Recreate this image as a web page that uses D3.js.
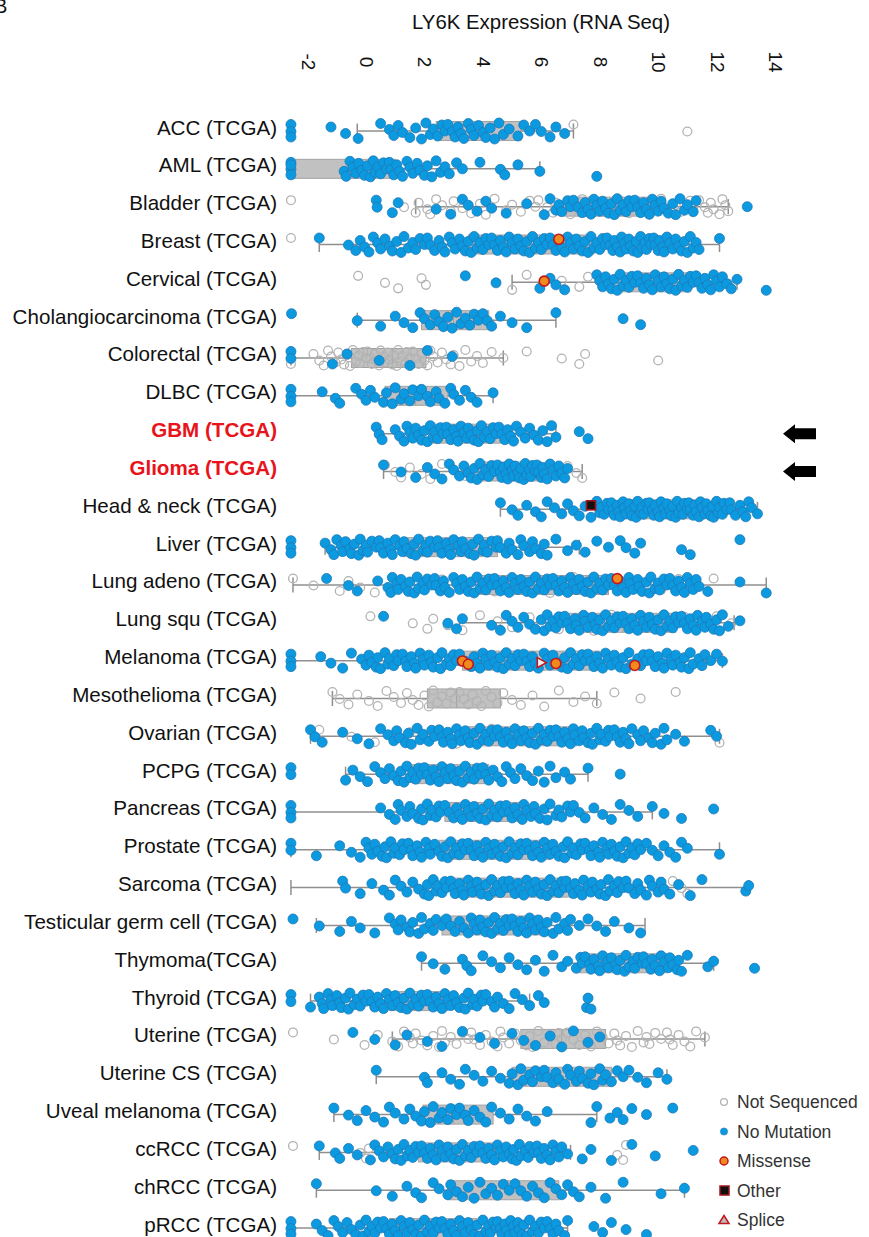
<!DOCTYPE html>
<html>
<head>
<meta charset="utf-8">
<script src="https://d3js.org/d3.v7.min.js"></script>
<style>
  body { margin: 0; background: #fff; }
  svg { display: block; }
  text { font-family: "Liberation Sans", Arial, sans-serif; fill: #111; }
</style>
</head>
<body>
<svg id="chart" width="869" height="1237"></svg>
<script>
// ---- data -------------------------------------------------------------
const categories = [
  "ACC (TCGA)", "AML (TCGA)", "Bladder (TCGA)", "Breast (TCGA)", "Cervical (TCGA)",
  "Cholangiocarcinoma (TCGA)", "Colorectal (TCGA)", "DLBC (TCGA)", "GBM (TCGA)", "Glioma (TCGA)",
  "Head & neck (TCGA)", "Liver (TCGA)", "Lung adeno (TCGA)", "Lung squ (TCGA)", "Melanoma (TCGA)",
  "Mesothelioma (TCGA)", "Ovarian (TCGA)", "PCPG (TCGA)", "Pancreas (TCGA)", "Prostate (TCGA)",
  "Sarcoma (TCGA)", "Testicular germ cell (TCGA)", "Thymoma(TCGA)", "Thyroid (TCGA)", "Uterine (TCGA)",
  "Uterine CS (TCGA)", "Uveal melanoma (TCGA)", "ccRCC (TCGA)", "chRCC (TCGA)", "pRCC (TCGA)"
];
const highlighted = ["GBM (TCGA)", "Glioma (TCGA)"];
const xTicks = [-2, 0, 2, 4, 6, 8, 10, 12, 14];
const legendLabels = ["Not Sequenced", "No Mutation", "Missense", "Other", "Splice"];

// box summaries per cancer type: [whisker low, Q1, median, Q3, whisker high]
const boxStats = [
  [-0.3, 2.4, 3.6, 5.3, 7.1],
  [-2.57, -2.57, -0.4, 1.0, 5.95],
  [1.7, 6.8, 8.5, 9.8, 12.4],
  [-1.6, 3.5, 5.6, 7.8, 12.1],
  [5.0, 8.6, 9.9, 11.1, 12.7],
  [-0.3, 1.9, 3.0, 4.2, 6.5],
  [-2.57, -0.5, 0.9, 2.05, 4.7],
  [-2.57, 0.65, 1.7, 2.8, 4.35],
  [0.4, 2.2, 3.4, 4.6, 6.5],
  [0.6, 3.8, 5.0, 6.0, 7.4],
  [4.6, 8.8, 10.3, 11.6, 13.4],
  [-1.4, 1.3, 2.9, 4.5, 7.3],
  [-2.5, 3.8, 6.0, 8.3, 13.7],
  [3.2, 6.9, 8.8, 10.6, 12.6],
  [-2.57, 3.3, 5.6, 8.0, 12.2],
  [-1.15, 2.1, 3.1, 4.6, 7.9],
  [-1.9, 3.5, 5.4, 7.2, 12.1],
  [-0.7, 1.6, 3.0, 4.2, 7.6],
  [-2.57, 2.7, 4.2, 5.4, 9.8],
  [-2.57, 2.5, 4.5, 6.3, 12.1],
  [-2.57, 3.0, 5.0, 7.0, 13.1],
  [-1.7, 2.6, 4.5, 6.0, 9.55],
  [1.9, 7.3, 9.0, 10.3, 11.9],
  [-1.9, 0.8, 1.8, 2.8, 5.6],
  [0.9, 5.3, 6.7, 8.2, 11.6],
  [0.35, 5.0, 6.6, 8.4, 10.3],
  [-1.1, 1.95, 3.0, 4.35, 7.9],
  [-1.6, 1.8, 3.1, 4.4, 7.0],
  [-1.7, 2.8, 4.6, 6.6, 10.9],
  [-2.57, 0.8, 2.2, 3.8, 6.9]
];

// LY6K expression of samples with no LY6K mutation
const noMutation = [
  [-2.57,-2.57,-2.57,-1.2,-0.7,-0.27,0.5,0.8,0.95,1.1,1.25,1.5,1.7,1.9,2.05,2.2,2.3,2.45,2.6,2.7,2.8,2.95,3.05,3.15,3.25,3.35,3.5,3.6,3.7,3.85,4.0,4.1,4.25,4.4,4.55,4.7,4.9,5.2,5.4,5.6,5.8,6.0,6.3,6.5,6.8],
  [-2.57,-2.57,-2.57,-2.57,-0.75,-0.68,-0.55,-0.45,-0.35,-0.25,-0.15,-0.05,0.05,0.15,0.25,0.3,0.4,0.5,0.6,0.7,0.8,0.85,0.95,1.05,1.15,1.25,1.4,1.5,1.6,1.75,1.85,2.0,2.1,2.25,2.4,2.55,2.7,2.85,3.1,3.3,3.9,4.6,4.75,5.2,5.95,7.9],
  [0.35,0.38,0.9,1.1,2.4,2.9,3.3,3.5,3.8,4.1,4.3,4.8,5.5,6.1,6.3,6.5,6.6,6.7,6.9,7.0,7.1,7.25,7.4,7.5,7.6,7.7,7.8,7.9,8.0,8.1,8.2,8.3,8.4,8.5,8.6,8.7,8.8,8.9,9.0,9.1,9.2,9.3,9.4,9.5,9.6,9.7,9.8,9.9,10.0,10.1,10.2,10.35,10.5,10.6,10.75,10.9,11.0,11.2,11.3,13.05],
  [-1.6,-0.6,-0.35,-0.2,-0.05,0.1,0.25,0.4,0.5,0.65,0.8,0.9,1.05,1.2,1.3,1.45,1.6,1.7,1.85,2.0,2.1,2.2,2.35,2.5,2.6,2.7,2.85,2.95,3.05,3.2,3.3,3.4,3.5,3.6,3.7,3.8,3.9,4.0,4.1,4.2,4.3,4.4,4.5,4.6,4.7,4.8,4.9,5.0,5.1,5.2,5.3,5.4,5.5,5.6,5.7,5.8,5.9,6.0,6.1,6.2,6.3,6.4,6.5,6.6,6.7,6.8,6.9,7.0,7.1,7.2,7.3,7.4,7.5,7.6,7.7,7.8,7.9,8.0,8.1,8.2,8.35,8.5,8.6,8.75,8.9,9.0,9.15,9.3,9.45,9.6,9.75,9.9,10.05,10.2,10.4,10.6,10.8,11.0,11.2,11.4,12.1,
   8.25,8.45,8.7,8.85,9.05,9.25,9.4,9.55,9.7,9.85,10.0,10.15,10.3,10.5,10.7,10.9,11.1,11.3],
  [3.4,4.45,5.95,6.3,6.5,6.8,7.9,8.0,8.1,8.2,8.3,8.4,8.5,8.6,8.7,8.8,8.9,9.0,9.1,9.2,9.3,9.4,9.5,9.6,9.7,9.8,9.9,10.0,10.1,10.2,10.3,10.4,10.5,10.6,10.7,10.8,10.9,11.0,11.1,11.2,11.3,11.4,11.5,11.6,11.7,11.8,11.9,12.0,12.1,12.2,12.35,12.5,12.7,13.7],
  [-2.55,-0.3,0.5,1.0,1.3,1.6,1.85,2.0,2.2,2.35,2.5,2.65,2.8,2.95,3.1,3.25,3.4,3.55,3.7,3.85,4.0,4.15,4.3,4.6,5.0,5.5,6.5,8.8,9.4],
  [-2.57,-2.57,-1.15,-0.65,0.45,1.5,2.1,2.95],
  [-2.57,-2.57,-2.57,-1.5,-1.05,-0.9,-0.35,-0.15,0.0,0.15,0.3,0.6,0.7,0.9,1.0,1.2,1.3,1.5,1.6,1.8,1.9,2.1,2.2,2.4,2.5,2.7,2.9,3.0,3.2,3.4,3.6,3.8,4.35],
  [0.35,0.45,0.55,1.0,1.15,1.3,1.4,1.5,1.6,1.7,1.8,1.9,2.0,2.1,2.2,2.3,2.35,2.45,2.55,2.65,2.75,2.8,2.9,3.0,3.1,3.15,3.25,3.35,3.45,3.5,3.6,3.7,3.8,3.85,3.95,4.05,4.15,4.25,4.35,4.45,4.55,4.65,4.75,4.85,4.95,5.05,5.15,5.3,5.45,5.6,5.75,5.9,6.05,6.2,6.35,6.5,7.3,7.6],
  [0.6,1.2,1.7,2.1,2.35,2.6,2.85,3.0,3.2,3.35,3.5,3.6,3.7,3.8,3.9,4.0,4.1,4.2,4.3,4.4,4.5,4.6,4.65,4.7,4.8,4.85,4.9,5.0,5.05,5.1,5.2,5.25,5.3,5.4,5.45,5.5,5.6,5.65,5.7,5.8,5.85,5.9,6.0,6.05,6.1,6.2,6.3,6.4,6.5,6.6,6.7,6.8,6.9],
  [4.6,5.0,5.2,5.5,5.8,6.0,6.2,6.45,6.7,6.9,7.1,7.3,7.5,7.7,7.9,8.0,8.15,8.3,8.4,8.5,8.6,8.7,8.8,8.9,9.0,9.1,9.2,9.3,9.4,9.5,9.6,9.7,9.8,9.9,10.0,10.1,10.2,10.3,10.4,10.5,10.6,10.7,10.8,10.9,11.0,11.1,11.2,11.3,11.4,11.5,11.6,11.7,11.8,11.9,12.0,12.1,12.2,12.35,12.5,12.65,12.8,13.0,13.2,13.4,
   8.05,8.25,8.45,8.65,8.85,9.05,9.25,9.45,9.65,9.85,10.05,10.25,10.45,10.65,10.85,11.05,11.25,11.45,11.65,11.85,12.05,12.25,12.45,12.9,13.1],
  [-2.57,-2.57,-2.57,-1.4,-1.2,-1.0,-0.85,-0.7,-0.55,-0.4,-0.25,-0.1,0.05,0.2,0.35,0.5,0.6,0.75,0.9,1.0,1.15,1.3,1.4,1.55,1.7,1.8,1.95,2.1,2.2,2.35,2.5,2.6,2.75,2.9,3.0,3.15,3.3,3.4,3.55,3.7,3.85,4.0,4.15,4.3,4.45,4.6,4.8,5.0,5.2,5.4,5.6,5.8,6.0,6.2,6.5,6.9,7.2,7.5,7.9,8.3,8.7,8.9,9.2,9.4,10.8,11.1,12.8,
   -1.1,-0.8,-0.5,-0.2,0.0,0.45,0.85,1.25,1.65,2.05,2.45,2.85,3.25,3.65,4.05,4.5,4.9,5.3,5.7,6.1],
  [-1.35,-0.6,-0.3,0.4,0.75,0.9,1.05,1.2,1.35,1.5,1.65,1.8,1.95,2.1,2.25,2.4,2.55,2.7,2.85,3.0,3.1,3.2,3.3,3.4,3.5,3.6,3.7,3.8,3.9,4.0,4.1,4.2,4.3,4.4,4.5,4.6,4.7,4.8,4.9,5.0,5.1,5.2,5.3,5.4,5.5,5.6,5.7,5.8,5.9,6.0,6.1,6.2,6.3,6.4,6.5,6.6,6.7,6.8,6.9,7.0,7.1,7.2,7.3,7.4,7.5,7.6,7.7,7.8,7.9,8.0,8.1,8.2,8.3,8.4,8.5,8.6,8.7,8.8,8.9,9.0,9.15,9.3,9.45,9.6,9.75,9.9,10.05,10.2,10.4,10.6,10.8,11.0,11.2,11.4,11.7,12.8,13.7,
   0.85,1.1,1.45,1.75,2.0,2.35,2.65,9.05,9.35,9.7,10.0,10.3,10.5,10.7,10.9,11.1,11.3],
  [0.6,2.8,3.1,3.3,4.3,4.6,4.8,5.0,5.2,5.4,5.6,5.8,6.0,6.2,6.4,6.6,6.8,7.0,7.15,7.3,7.45,7.6,7.75,7.9,8.0,8.1,8.2,8.3,8.4,8.5,8.6,8.7,8.8,8.9,9.0,9.1,9.2,9.3,9.4,9.5,9.6,9.7,9.8,9.9,10.0,10.1,10.2,10.3,10.4,10.5,10.6,10.7,10.8,10.9,11.0,11.1,11.2,11.35,11.5,11.65,11.8,12.0,12.2,12.4,12.8,
   6.1,6.3,6.5,6.7,6.9,7.2,7.5,7.85,11.3,11.6,11.9,12.1],
  [-2.57,-2.57,-2.57,-1.55,-1.2,-0.8,-0.5,-0.15,0.0,0.2,0.35,0.5,0.65,0.8,0.95,1.1,1.25,1.4,1.55,1.7,1.85,2.0,2.15,2.3,2.45,2.6,2.75,2.9,3.0,3.1,3.2,3.4,3.6,3.7,3.8,3.9,4.0,4.1,4.2,4.3,4.4,4.5,4.6,4.7,4.8,4.9,5.0,5.1,5.2,5.3,5.4,5.5,5.6,5.7,5.8,5.9,6.1,6.2,6.3,6.4,6.6,6.7,6.8,6.9,7.0,7.1,7.2,7.3,7.4,7.5,7.6,7.7,7.8,7.9,8.0,8.1,8.2,8.3,8.4,8.5,8.6,8.7,8.8,8.9,9.0,9.1,9.3,9.4,9.5,9.6,9.7,9.8,9.9,10.0,10.15,10.3,10.45,10.6,10.75,10.9,11.05,11.2,11.4,11.6,11.8,12.0,12.2,
   0.1,0.4,0.75,1.05,1.35,1.65,1.95,2.25,2.55,2.85,10.2,10.5,10.8,11.1,11.5],
  [],
  [-1.9,-1.75,-1.5,-0.8,-0.3,0.1,0.5,0.75,0.95,1.15,1.35,1.55,1.75,1.95,2.15,2.35,2.5,2.65,2.8,2.95,3.1,3.25,3.4,3.55,3.7,3.8,3.9,4.0,4.1,4.2,4.3,4.4,4.5,4.6,4.7,4.8,4.9,5.0,5.1,5.2,5.3,5.4,5.5,5.6,5.7,5.8,5.9,6.0,6.1,6.2,6.3,6.4,6.5,6.6,6.7,6.8,6.9,7.0,7.15,7.3,7.45,7.6,7.75,7.9,8.05,8.2,8.35,8.5,8.7,8.9,9.1,9.3,9.5,9.7,9.9,10.1,10.3,10.6,10.9,11.8,12.0,
   1.05,1.45,1.85,2.25,2.6,2.9,3.2,3.5,7.1,7.4,7.7,8.0,8.3,8.6,8.8,9.0,9.4,9.8,10.2],
  [-2.57,-2.57,-0.7,-0.45,-0.2,0.05,0.3,0.5,0.65,0.8,0.95,1.1,1.2,1.3,1.4,1.5,1.6,1.7,1.8,1.9,2.0,2.1,2.2,2.3,2.4,2.5,2.6,2.7,2.8,2.9,3.0,3.1,3.2,3.3,3.4,3.5,3.6,3.7,3.8,3.9,4.0,4.1,4.2,4.35,4.5,4.65,4.8,4.95,5.1,5.3,5.5,5.7,5.9,6.1,6.3,6.5,6.8,7.0,7.6,8.7],
  [-2.57,-2.57,-2.57,0.5,0.8,1.0,1.2,1.4,1.6,1.8,1.95,2.1,2.25,2.4,2.55,2.7,2.85,3.0,3.1,3.2,3.3,3.4,3.5,3.6,3.7,3.8,3.9,4.0,4.1,4.2,4.3,4.4,4.5,4.6,4.7,4.8,4.9,5.0,5.1,5.2,5.35,5.5,5.65,5.8,5.95,6.1,6.3,6.5,6.7,6.9,7.1,7.3,7.5,7.8,8.1,8.4,8.7,9.0,9.3,9.8,10.2,10.8,11.9,
   1.1,1.5,1.9,2.2,2.5,5.4,5.75,6.2,6.6,7.0],
  [-2.57,-2.57,-1.7,-0.9,-0.5,-0.2,0.0,0.2,0.4,0.55,0.7,0.85,1.0,1.15,1.3,1.45,1.6,1.75,1.9,2.05,2.2,2.35,2.5,2.6,2.7,2.8,2.9,3.0,3.1,3.2,3.3,3.4,3.5,3.6,3.7,3.8,3.9,4.0,4.1,4.2,4.3,4.4,4.5,4.6,4.7,4.8,4.9,5.0,5.1,5.2,5.3,5.4,5.5,5.6,5.7,5.8,5.9,6.0,6.1,6.2,6.3,6.4,6.5,6.6,6.75,6.9,7.05,7.2,7.35,7.5,7.65,7.8,7.95,8.1,8.25,8.4,8.6,8.8,9.0,9.2,9.4,9.6,9.8,10.0,10.2,10.4,10.6,10.8,11.0,12.1,
   0.1,0.3,0.65,0.95,1.25,1.55,1.85,2.15,6.8,7.1,7.4,7.7,8.0,8.3,8.5,8.7,8.9,9.1,9.3],
  [-0.8,-0.7,-0.2,0.2,0.6,0.8,1.0,1.2,1.4,1.6,1.8,2.0,2.15,2.3,2.45,2.6,2.75,2.9,3.05,3.2,3.35,3.5,3.65,3.8,3.95,4.1,4.2,4.3,4.4,4.5,4.6,4.7,4.8,4.9,5.0,5.1,5.2,5.3,5.4,5.5,5.6,5.7,5.8,5.9,6.0,6.1,6.2,6.3,6.4,6.5,6.6,6.7,6.85,7.0,7.15,7.3,7.45,7.6,7.75,7.9,8.05,8.2,8.35,8.5,8.65,8.8,9.0,9.2,9.4,9.6,9.8,10.0,10.2,10.4,10.7,11.1,11.5,13.0,13.1,
   2.1,2.4,2.7,3.0,3.3,3.6,3.9,6.8,7.1,7.4,7.7,8.0,8.3,8.6,8.9,9.3,9.7,10.1],
  [-2.5,-1.6,-0.9,-0.5,-0.2,0.3,0.8,1.0,1.2,1.4,1.6,1.8,2.0,2.2,2.4,2.6,2.75,2.9,3.05,3.2,3.35,3.5,3.6,3.7,3.8,3.9,4.0,4.1,4.2,4.3,4.4,4.5,4.6,4.7,4.8,4.9,5.0,5.1,5.2,5.3,5.4,5.5,5.6,5.7,5.8,5.9,6.0,6.2,6.4,6.6,6.8,7.0,7.3,7.6,7.9,8.2,8.5,9.0,9.4,
   1.1,1.5,1.9,2.3,6.1,6.5,6.9],
  [1.9,2.3,2.7,3.3,3.45,3.6,4.0,4.3,4.6,4.9,5.2,5.5,5.8,6.1,6.4,6.7,6.9,7.2,7.35,7.5,7.65,7.8,7.95,8.1,8.25,8.4,8.55,8.7,8.85,9.0,9.15,9.3,9.45,9.6,9.75,9.9,10.05,10.2,10.35,10.5,10.65,10.8,11.0,11.7,11.9,13.3,
   7.4,7.7,8.0,8.3,8.6,8.9,9.2,9.5,9.8,10.1,10.4,10.7],
  [-2.57,-2.57,-1.9,-1.6,-1.45,-1.3,-1.15,-1.0,-0.85,-0.7,-0.55,-0.4,-0.3,-0.2,-0.1,0.0,0.1,0.2,0.3,0.4,0.5,0.6,0.7,0.8,0.9,1.0,1.1,1.2,1.3,1.4,1.5,1.6,1.7,1.8,1.9,2.0,2.1,2.2,2.3,2.4,2.5,2.6,2.7,2.8,2.9,3.0,3.1,3.2,3.35,3.5,3.65,3.8,3.95,4.1,4.3,4.5,4.7,4.9,5.1,5.35,5.6,5.9,6.1,7.55,7.6,7.7,
   -1.5,-1.2,-0.9,-0.6,3.4,3.7,4.0,4.4],
  [-0.45,0.3,1.0,1.4,2.1,2.6,3.3,3.9,4.4,5.0,5.4,5.8,6.3,6.7,7.1,7.6,8.0],
  [0.35,2.0,2.1,2.6,2.9,3.2,3.4,3.7,4.0,4.3,4.6,4.9,5.0,5.2,5.4,5.6,5.8,6.0,6.2,6.4,6.6,6.8,7.0,7.2,7.4,7.6,7.8,8.0,8.2,8.4,8.6,8.8,9.0,9.3,9.6,10.0,10.3,
   5.3,5.7,6.1,6.5,6.9,7.3,7.7,8.1],
  [-1.1,-0.6,-0.3,0.0,0.3,0.6,0.8,1.0,1.3,1.5,1.7,1.9,2.0,2.2,2.3,2.5,2.6,2.8,2.9,3.1,3.2,3.4,3.5,3.7,3.9,4.1,4.3,4.6,4.9,5.2,5.5,5.8,6.2,7.7,7.9,8.35,8.6,8.8,9.1,9.6,10.5],
  [-1.6,-1.05,-0.9,-0.6,-0.3,0.15,0.3,0.45,0.6,0.75,0.9,1.0,1.1,1.2,1.3,1.4,1.5,1.6,1.7,1.8,1.9,2.0,2.1,2.2,2.3,2.4,2.5,2.6,2.7,2.8,2.9,3.0,3.1,3.2,3.3,3.4,3.5,3.6,3.7,3.8,3.9,4.0,4.1,4.2,4.3,4.4,4.5,4.6,4.7,4.8,4.9,5.0,5.15,5.3,5.45,5.6,5.75,5.9,6.1,6.3,6.5,6.7,6.9,7.4,7.7,8.4,9.1,9.9,11.2,
   5.05,5.25,5.55,5.85,6.0,6.2,6.4,6.6],
  [-1.7,0.35,0.9,1.4,1.7,1.9,2.3,2.5,2.8,2.9,3.1,3.3,3.5,3.7,3.9,4.1,4.3,4.5,4.7,4.9,5.1,5.3,5.5,5.7,5.9,6.1,6.3,6.5,6.7,6.9,7.1,7.3,7.7,8.2,8.8,10.1,10.9],
  [-2.57,-2.57,-2.57,-1.7,-1.5,-1.3,-1.1,-0.95,-0.8,-0.65,-0.5,-0.35,-0.2,-0.1,0.0,0.1,0.2,0.3,0.4,0.5,0.6,0.7,0.8,0.9,1.0,1.1,1.2,1.3,1.4,1.5,1.6,1.7,1.8,1.9,2.0,2.1,2.2,2.3,2.4,2.5,2.6,2.7,2.8,2.9,3.0,3.1,3.2,3.3,3.4,3.5,3.6,3.7,3.8,3.9,4.0,4.1,4.2,4.35,4.5,4.65,4.8,4.95,5.1,5.25,5.4,5.6,5.8,6.0,6.2,6.4,6.6,6.8,6.9,7.8,8.1,8.4,8.9,9.6,
   4.25,4.45,4.6,4.75,4.9,5.05,5.2,5.35,5.5,5.7,5.9,6.1,6.3,6.5]
];

// LY6K expression of samples without mutation calls
const notSequenced = [
  [7.1, 11.0],
  [],
  [-2.57,1.3,1.7,1.8,2.1,2.2,2.4,2.6,2.9,3.0,3.3,3.6,3.9,4.1,4.4,4.8,5.0,5.3,5.6,5.8,5.9,6.2,6.4,6.5,6.8,7.0,7.4,7.8,8.1,8.5,8.9,9.0,9.3,9.7,10.1,10.4,10.6,10.8,11.1,11.2,11.4,11.6,11.7,11.8,11.9,12.1,12.2,12.3,12.4],
  [-2.57],
  [-0.27,0.65,1.1,1.9,2.05,5.0,5.5,6.7,7.3,7.6,12.4],
  [],
  [-2.57,-2.57,-2.57,-1.8,-1.6,-1.45,-1.3,-1.2,-1.05,-0.95,-0.85,-0.75,-0.65,-0.55,-0.45,-0.35,-0.25,-0.2,-0.1,0.0,0.05,0.15,0.2,0.3,0.35,0.45,0.5,0.6,0.65,0.75,0.8,0.9,0.95,1.05,1.1,1.2,1.25,1.35,1.4,1.5,1.6,1.7,1.8,1.9,2.0,2.1,2.2,2.3,2.45,2.6,2.75,2.9,3.0,3.2,3.4,3.6,3.8,4.0,4.3,4.7,5.5,6.7,7.3,7.5,10.0],
  [],
  [],
  [0.65,1.0,1.2,1.5,1.9,2.2,2.6,3.0,3.4,6.9,7.2,7.4],
  [],
  [],
  [-2.5,-1.8,-0.9,-0.6,-0.2,0.3,0.9,1.4,2.0,2.6,3.4,4.4,5.2,6.3,7.1,8.0,9.2,10.1,10.7,11.3,11.9],
  [0.15,1.6,2.1,2.3,2.8,3.3,3.9,4.5,5.0,5.6,6.0,6.6,7.2,7.8,8.4,9.1,9.7,10.3,10.9,11.5,12.0,12.5],
  [],
  [-1.15,-0.9,-0.6,-0.3,0.1,0.4,0.7,0.95,1.2,1.4,1.6,1.8,2.0,2.15,2.3,2.45,2.6,2.75,2.9,3.05,3.2,3.35,3.5,3.65,3.8,3.95,4.1,4.3,4.5,4.7,5.0,5.3,5.7,6.1,6.6,7.1,7.5,7.9,8.5,9.4,10.6],
  [-1.6,-0.5,0.3,1.5,2.2,3.1,4.3,5.6,7.0,8.3,9.6,12.1],
  [],
  [],
  [],
  [10.5,10.8,11.0],
  [],
  [],
  [],
  [-2.5,-1.1,-0.05,0.4,0.9,1.1,1.3,1.5,1.6,1.7,1.9,2.1,2.3,2.5,2.6,2.7,2.9,3.1,3.3,3.5,3.6,3.7,3.9,4.1,4.3,4.5,4.6,4.7,4.9,5.1,5.3,5.5,5.6,5.7,5.9,6.1,6.3,6.5,6.6,6.7,6.9,7.1,7.3,7.5,7.6,7.7,7.9,8.1,8.3,8.5,8.6,8.7,8.9,9.1,9.3,9.5,9.6,9.7,9.9,10.1,10.3,10.4,10.5,10.7,10.9,11.1,11.3,11.6],
  [],
  [],
  [-2.5,-0.2,0.0,0.1,8.6,8.8,8.9],
  [],
  []
];

// mutated samples: [cancer type, expression]
const missense = [
  ["Breast (TCGA)", 6.6],
  ["Cervical (TCGA)", 6.1],
  ["Lung adeno (TCGA)", 8.6],
  ["Melanoma (TCGA)", 3.3],
  ["Melanoma (TCGA)", 3.5],
  ["Melanoma (TCGA)", 6.5],
  ["Melanoma (TCGA)", 9.2]
];
const otherMutation = [["Head & neck (TCGA)", 7.7]];
const splice = [["Melanoma (TCGA)", 6.0]];

// ---- layout -------------------------------------------------------------
// vertical spread of the strip: loose lanes so neighbouring samples don't stack
const jitter = [-6.5, 0.5, 6, -4, 2.5, 7.5, -7.5, -1.5, 4.5, -5.5, 1.5, 6.5, -3, 8, -8, 3.5, -2, 5, -6, 0];
const C = {
  blue: "#0b9ae0", blueEdge: "#1f78b8",
  grey: "#b3b3b3", box: "#c1c1c1", boxEdge: "#a3a3a3", whisker: "#8f8f8f",
  orange: "#f08a1c", red: "#c4161c"
};

const svg = d3.select("#chart");
const x = d3.scaleLinear().domain([-2, 14]).range([307.6, 775]);
const y = d3.scaleBand().domain(categories).range([112.1, 1247]);
const cy = c => y(c) + y.bandwidth() / 2;

// panel letter at the page corner
svg.append("text").attr("x", -6).attr("y", 13).attr("font-size", 20).text("B");

// title
svg.append("text")
  .attr("x", 541).attr("y", 22)
  .attr("text-anchor", "middle").attr("dominant-baseline", "central")
  .attr("font-size", 20.4)
  .text("LY6K Expression (RNA Seq)");

// rotated tick labels along the top
const axis = svg.append("g").attr("transform", "translate(0,62)")
  .call(d3.axisTop(x).tickValues(xTicks).tickSize(0).tickPadding(0).tickFormat(d => String(d)));
axis.select(".domain").remove();
axis.selectAll("text")
  .attr("y", 0).attr("dy", null)
  .attr("transform", "rotate(90)")
  .attr("text-anchor", "middle").attr("dominant-baseline", "central")
  .attr("font-size", 19).attr("font-family", "Liberation Sans, Arial, sans-serif")
  .attr("fill", "#111");

// category labels
svg.append("g").selectAll("text").data(categories).join("text")
  .attr("x", 277).attr("y", d => cy(d) - 4)
  .attr("text-anchor", "end").attr("dominant-baseline", "central")
  .attr("font-size", 20.6)
  .attr("font-weight", d => highlighted.includes(d) ? "bold" : null)
  .style("fill", d => highlighted.includes(d) ? "#e8141b" : "#111")
  .text(d => d);

// box plots
const boxes = svg.append("g").selectAll("g").data(categories).join("g")
  .attr("transform", d => `translate(0,${cy(d)})`);
boxes.append("line")
  .attr("x1", (d, i) => x(boxStats[i][0])).attr("x2", (d, i) => x(boxStats[i][4]))
  .attr("stroke", C.whisker).attr("stroke-width", 1.5);
[0, 4].forEach(k => {
  boxes.append("line")
    .attr("x1", (d, i) => x(boxStats[i][k])).attr("x2", (d, i) => x(boxStats[i][k]))
    .attr("y1", -7.5).attr("y2", 7.5)
    .attr("stroke", C.whisker).attr("stroke-width", 1.5);
});
boxes.append("rect")
  .attr("x", (d, i) => x(boxStats[i][1]))
  .attr("width", (d, i) => x(boxStats[i][3]) - x(boxStats[i][1]))
  .attr("y", -9.5).attr("height", 19)
  .attr("fill", C.box).attr("stroke", C.boxEdge).attr("stroke-width", 1);
boxes.append("line")
  .attr("x1", (d, i) => x(boxStats[i][2])).attr("x2", (d, i) => x(boxStats[i][2]))
  .attr("y1", -9.5).attr("y2", 9.5)
  .attr("stroke", C.boxEdge).attr("stroke-width", 1);

// sample points, sorted within each row so neighbouring values take different lanes
function flatten(series) {
  const out = [];
  series.forEach((vals, r) => vals.slice().sort(d3.ascending)
    .forEach((v, i) => out.push({ c: categories[r], v, j: jitter[i % jitter.length] })));
  return out;
}
svg.append("g").selectAll("circle").data(flatten(notSequenced)).join("circle")
  .attr("cx", d => x(d.v)).attr("cy", d => cy(d.c) + d.j).attr("r", 4.4)
  .attr("fill", "none").attr("stroke", C.grey).attr("stroke-width", 1.3);
svg.append("g").selectAll("circle").data(flatten(noMutation)).join("circle")
  .attr("cx", d => x(d.v)).attr("cy", d => cy(d.c) + d.j).attr("r", 5)
  .attr("fill", C.blue).attr("stroke", C.blueEdge).attr("stroke-width", 0.8);

// mutation markers
svg.append("g").selectAll("circle").data(missense).join("circle")
  .attr("cx", d => x(d[1])).attr("cy", (d, i) => cy(d[0]) + jitter[(i * 7) % jitter.length] * 0.8)
  .attr("r", 5).attr("fill", C.orange).attr("stroke", C.red).attr("stroke-width", 1.6);
svg.append("g").selectAll("rect").data(otherMutation).join("rect")
  .attr("x", d => x(d[1]) - 4.5).attr("y", d => cy(d[0]) - 8.5)
  .attr("width", 9).attr("height", 9)
  .attr("fill", "#111").attr("stroke", "#a0141a").attr("stroke-width", 1.6);
svg.append("g").selectAll("path").data(splice).join("path")
  .attr("d", d => {
    const px = x(d[1]), py = cy(d[0]) + 2;
    return `M${px - 4},${py - 5}L${px + 5},${py}L${px - 4},${py + 5}Z`;
  })
  .attr("fill", "#f2f2f2").attr("stroke", C.red).attr("stroke-width", 1.6);

// arrows marking the brain tumour rows
svg.append("g").selectAll("path").data(highlighted).join("path")
  .attr("d", d => {
    const c = cy(d);
    return `M783,${c}L795,${c - 9.5}L795,${c - 5.5}L816,${c - 5.5}L816,${c + 5.5}L795,${c + 5.5}L795,${c + 9.5}Z`;
  })
  .attr("fill", "#000");

// legend
const legY = d3.scalePoint().domain(legendLabels).range([1102, 1220]);
const leg = svg.append("g");
leg.selectAll("text").data(legendLabels).join("text")
  .attr("x", 737).attr("y", d => legY(d))
  .attr("dominant-baseline", "central").attr("font-size", 17.5)
  .style("fill", "#333").text(d => d);
leg.append("circle").attr("cx", 724).attr("cy", legY("Not Sequenced")).attr("r", 3.4)
  .attr("fill", "#fff").attr("stroke", C.grey).attr("stroke-width", 1.3);
leg.append("circle").attr("cx", 724).attr("cy", legY("No Mutation")).attr("r", 3.6)
  .attr("fill", C.blue).attr("stroke", C.blueEdge).attr("stroke-width", 0.6);
leg.append("circle").attr("cx", 724).attr("cy", legY("Missense")).attr("r", 4)
  .attr("fill", C.orange).attr("stroke", C.red).attr("stroke-width", 1.5);
leg.append("rect").attr("x", 720).attr("y", legY("Other") - 4.5).attr("width", 9).attr("height", 9)
  .attr("fill", "#111").attr("stroke", "#a0141a").attr("stroke-width", 1.5);
leg.append("path")
  .attr("d", () => { const py = legY("Splice"); return `M724,${py - 4.5}L729,${py + 3.5}L719,${py + 3.5}Z`; })
  .attr("fill", "#bdbdbd").attr("stroke", C.red).attr("stroke-width", 1.5);
</script>
</body>
</html>
